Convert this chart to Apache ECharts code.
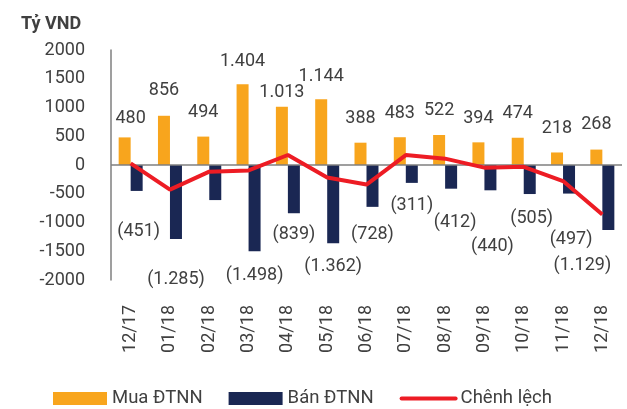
<!DOCTYPE html>
<html>
<head>
<meta charset="utf-8">
<script src="https://cdn.jsdelivr.net/npm/echarts@6/dist/echarts.min.js"></script>
<style>
html,body{margin:0;padding:0;background:#fff;}
#chart{width:627px;height:409px;}
</style>
</head>
<body>
<div id="chart"></div>
<script>
var categories = ['12/17','01/18','02/18','03/18','04/18','05/18','06/18','07/18','08/18','09/18','10/18','11/18','12/18'];
var muaValues = [480, 856, 494, 1404, 1013, 1144, 388, 483, 522, 394, 474, 218, 268];
var banValues = [-451, -1285, -610, -1498, -839, -1362, -728, -311, -412, -440, -505, -497, -1129];
var chenhLechValues = [29, -429, -116, -94, 174, -218, -340, 172, 110, -46, -31, -279, -861];
var banLabelShown = [true, true, false, true, true, true, true, true, true, true, true, true, true];
var yTicks = [-2000, 2000, 500];

// label placement tweaks (layout only)
var muaLabelShift = [[6,5],[0,-1],[0,0],[0,1],[0,10],[0,1],[0,0],[0,0],[0,0],[0,0],[0,0],[0,0],[0,-1]];
var banLabelShift = [[2,18],[0,18],[0,0],[0,1],[0,-2],[0,0],[0,5],[0,0],[4,11],[2,33],[2,1],[2,23],[-26,13]];

var TEXT = '#404040';
function fmt(v){
  var a = Math.abs(v).toString().replace(/\B(?=(\d{3})+(?!\d))/g, '.');
  return v < 0 ? '(' + a + ')' : a;
}

var muaData = muaValues.map(function(v,i){
  return {value:v, label:{offset:muaLabelShift[i]}};
});
var banData = banValues.map(function(v,i){
  return {value:v, label:{show:banLabelShown[i], offset:banLabelShift[i]}};
});

var chart = echarts.init(document.getElementById('chart'));
chart.setOption({
  animation:false,
  textStyle:{fontFamily:'Roboto'},
  title:{text:'Tỷ VND', left:16, top:10, textStyle:{fontSize:18, fontWeight:'bold', color:TEXT, fontFamily:'Roboto'}},
  grid:{left:111, right:5, top:50, bottom:129, containLabel:false},
  legend:{
    left:53, top:389, itemWidth:54, itemHeight:13, itemGap:26, padding:0,
    textStyle:{fontSize:18.5, color:TEXT, fontFamily:'Roboto'},
    data:[
      {name:'Mua ĐTNN', icon:'rect'},
      {name:'Bán ĐTNN', icon:'rect'},
      {name:'Chênh lệch', itemStyle:{opacity:0}, lineStyle:{width:4, color:'#ED1C24', cap:'round'}}
    ]
  },
  xAxis:{
    type:'category', data:categories,
    axisLine:{show:false, onZero:false}, axisTick:{show:false},
    axisLabel:{rotate:90, margin:25, fontSize:18, color:TEXT, fontFamily:'Roboto'}
  },
  yAxis:{
    type:'value', min:yTicks[0], max:yTicks[1], interval:yTicks[2],
    axisLine:{show:true, lineStyle:{color:'#7f7f7f', width:1.5}},
    axisTick:{show:false}, splitLine:{show:false},
    axisLabel:{margin:26, fontSize:18, color:TEXT, fontFamily:'Roboto', formatter:function(v){return String(v);}}
  },
  series:[
    {
      name:'Mua ĐTNN', type:'bar', data:muaData, barWidth:12, barGap:'0%',
      itemStyle:{color:'#F8A51D'},
      label:{show:true, position:'top', distance:15, fontSize:18, color:TEXT, fontFamily:'Roboto',
        formatter:function(p){return fmt(p.value);}},
      markLine:{silent:true, symbol:'none', label:{show:false},
        lineStyle:{color:'#7f7f7f', width:1.5, type:'solid'}, data:[{yAxis:0}]}
    },
    {
      name:'Bán ĐTNN', type:'bar', data:banData, barWidth:12, barGap:'0%',
      itemStyle:{color:'#1A2753'},
      label:{show:true, position:'bottom', distance:14, fontSize:18, color:TEXT, fontFamily:'Roboto',
        formatter:function(p){return fmt(p.value);}}
    },
    {
      name:'Chênh lệch', type:'line', data:chenhLechValues, symbol:'none', z:5,
      lineStyle:{color:'#ED1C24', width:4}, itemStyle:{color:'#ED1C24'}
    }
  ]
});
</script>
</body>
</html>
